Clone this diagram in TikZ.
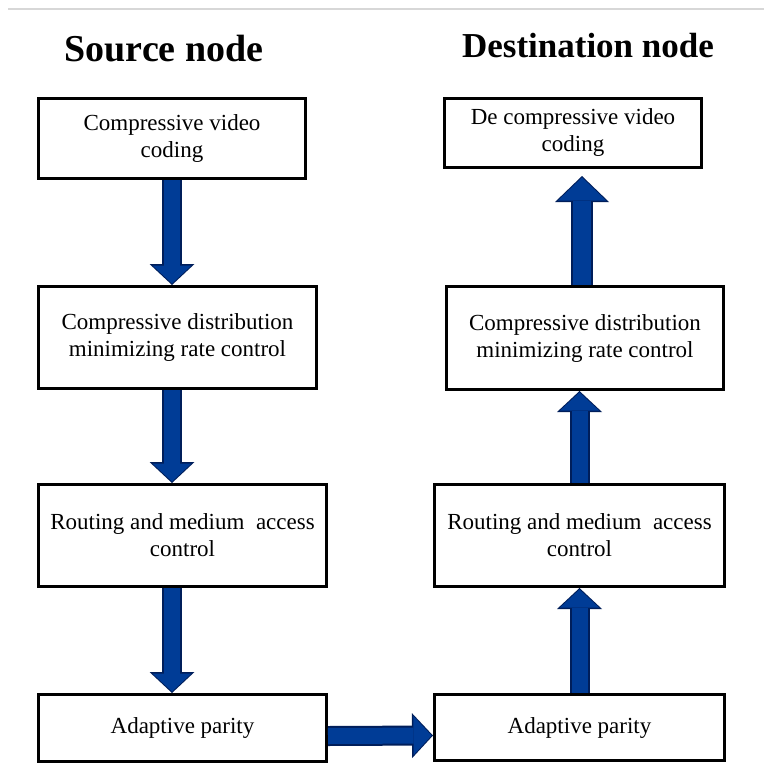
\documentclass[tikz,border=0pt]{standalone}
\usepackage{fontspec}
\setmainfont{Liberation Serif}
\usetikzlibrary{arrows.meta}

\definecolor{arrowfill}{RGB}{0,60,150}
\definecolor{arrowedge}{RGB}{0,30,90}
\definecolor{rulegray}{RGB}{215,215,215}

\tikzset{
  block/.style={draw, line width=3pt, align=center, inner sep=0pt,
    font=\fontsize{23}{27}\selectfont},
  title/.style={font=\bfseries\fontsize{38}{40}\selectfont},
  flow/.style={draw=arrowedge, line width=20pt,
    -{Triangle[width=45pt,length=21pt,line width=0pt]},
    postaction={draw=arrowfill, line width=16pt,
      -{Triangle[width=39pt,length=18pt,line width=0pt]}, shorten >=1.5pt}},
  bigflow/.style={draw=arrowedge, line width=22pt, shorten >=7pt,
    -{Triangle[width=54pt,length=26pt,line width=0pt]},
    postaction={draw=arrowfill, line width=18pt,
      -{Triangle[width=48pt,length=23pt,line width=0pt]}, shorten >=8.5pt}},
}

\begin{document}
\begin{tikzpicture}[x=1pt, y=-1pt]
  \useasboundingbox (0,0) rectangle (764,765);
  \draw[rulegray, line width=1.5pt] (8,9) -- (764,9);

  % titles
  \node[title] (srctitle) at (164,49) {Source node};
  \node[title, font=\bfseries\fontsize{35}{38}\selectfont] (dsttitle) at (588,45.5) {Destination node};

  % source node
  \node[block, minimum width=267pt, minimum height=80pt] (src1) at (172,138.5) {Compressive video\\coding};
  \node[block, minimum width=278pt, minimum height=102pt] (src2) at (177.5,337.5) {Compressive distribution\\minimizing rate control};
  \node[block, minimum width=288pt, minimum height=102pt] (src3) at (182.5,535.5) {Routing and medium~ access\\control};
  \node[block, minimum width=288pt, minimum height=67pt] (src4) at (182.5,728) {Adaptive parity};

  % destination node
  \node[block, minimum width=257pt, minimum height=69pt] (dst1) at (573,133) {De compressive video\\coding};
  \node[block, minimum width=277pt, minimum height=103pt] (dst2) at (585,338) {Compressive distribution\\minimizing rate control};
  \node[block, minimum width=290pt, minimum height=102pt] (dst3) at (579.5,535.5) {Routing and medium~ access\\control};
  \node[block, minimum width=290pt, minimum height=66pt] (dst4) at (579.5,727.5) {Adaptive parity};

  % arrows
  \draw[flow] (src1.south) -- (src2.north -| src1.south);
  \draw[flow] (src2.south -| src1.south) -- (src3.north -| src1.south);
  \draw[flow] (src3.south -| src1.south) -- (src4.north -| src1.south);
  \draw[flow] ([yshift=-8pt]src4.east) -- ([yshift=-8pt]dst4.west);
  \draw[flow] (dst4.north) -- (dst3.south);
  \draw[flow] (dst3.north) -- (dst2.south -| dst3.north);
  \draw[bigflow] ([xshift=-3pt]dst2.north) -- ([xshift=-3pt]dst1.south -| dst2.north);
\end{tikzpicture}
\end{document}
